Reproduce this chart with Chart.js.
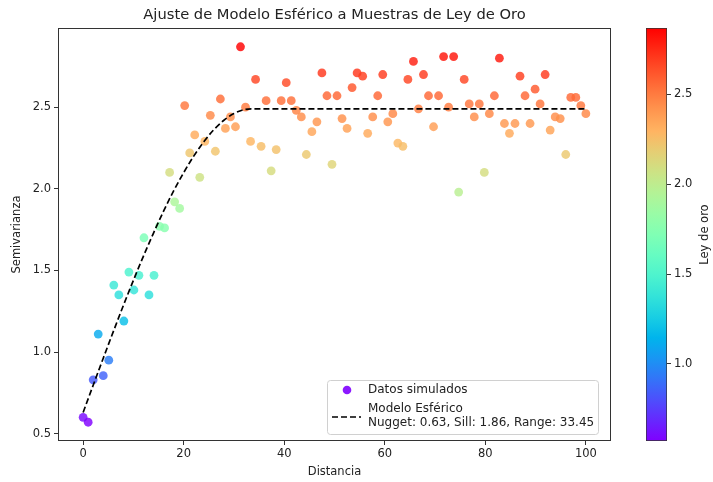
<!DOCTYPE html>
<html>
<head>
<meta charset="utf-8">
<script src="https://cdn.jsdelivr.net/npm/chart.js@4/dist/chart.umd.min.js"></script>
<style>
  html, body { margin: 0; padding: 0; background: #fff; }
  #wrap { position: relative; width: 713px; height: 482px; }
  #mainChart { position: absolute; left: 0; top: 0; }
  #cbChart { position: absolute; left: 640px; top: 0; }
</style>
</head>
<body>
<div id="wrap">
  <canvas id="mainChart" width="713" height="482"></canvas>
  <canvas id="cbChart" width="73" height="482"></canvas>
</div>
<script>
// distancias de las muestras (0..100, 100 muestras)
const distancia = [
  0.0, 1.0, 2.0, 3.0, 4.0, 5.1, 6.1, 7.1, 8.1, 9.1,
  10.1, 11.1, 12.1, 13.1, 14.1, 15.2, 16.2, 17.2, 18.2, 19.2,
  20.2, 21.2, 22.2, 23.2, 24.2, 25.3, 26.3, 27.3, 28.3, 29.3,
  30.3, 31.3, 32.3, 33.3, 34.3, 35.4, 36.4, 37.4, 38.4, 39.4,
  40.4, 41.4, 42.4, 43.4, 44.4, 45.5, 46.5, 47.5, 48.5, 49.5,
  50.5, 51.5, 52.5, 53.5, 54.5, 55.6, 56.6, 57.6, 58.6, 59.6,
  60.6, 61.6, 62.6, 63.6, 64.6, 65.7, 66.7, 67.7, 68.7, 69.7,
  70.7, 71.7, 72.7, 73.7, 74.7, 75.8, 76.8, 77.8, 78.8, 79.8,
  80.8, 81.8, 82.8, 83.8, 84.8, 85.9, 86.9, 87.9, 88.9, 89.9,
  90.9, 91.9, 92.9, 93.9, 94.9, 96.0, 97.0, 98.0, 99.0, 100.0
];
// semivarianza observada (también usada como color: ley de oro)
const semivarianza = [
  0.60, 0.57, 0.83, 1.11, 0.855, 0.95, 1.41, 1.35, 1.19, 1.49,
  1.38, 1.47, 1.70, 1.35, 1.47, 1.77, 1.76, 2.10, 1.92, 1.88,
  2.51, 2.22, 2.33, 2.07, 2.29, 2.45, 2.23, 2.55, 2.37, 2.44,
  2.38, 2.87, 2.50, 2.29, 2.67, 2.26, 2.54, 2.11, 2.24, 2.54,
  2.65, 2.54, 2.48, 2.44, 2.21, 2.35, 2.41, 2.71, 2.57, 2.15,
  2.57, 2.43, 2.37, 2.62, 2.71, 2.69, 2.34, 2.44, 2.57, 2.70,
  2.41, 2.46, 2.28, 2.26, 2.67, 2.78, 2.49, 2.70, 2.57, 2.38,
  2.57, 2.81, 2.50, 2.81, 1.98, 2.67, 2.52, 2.44, 2.52, 2.10,
  2.46, 2.57, 2.80, 2.40, 2.34, 2.40, 2.69, 2.57, 2.40, 2.61,
  2.52, 2.70, 2.36, 2.44, 2.43, 2.21, 2.56, 2.56, 2.51, 2.46
];
// modelo esferico (nugget 0.63, sill 1.86, range 33.45)
const modeloDist = [0, 2, 4, 6, 8, 10, 12, 14, 16, 18, 20, 22, 24, 26, 28, 30, 32, 33.45, 100];
const modeloGamma = [0.630, 0.797, 0.962, 1.125, 1.285, 1.439, 1.588, 1.729, 1.863, 1.987,
  2.099, 2.200, 2.288, 2.362, 2.420, 2.461, 2.485, 2.490, 2.490];

const xTicks = [0, 20, 40, 60, 80, 100];
const yTicks = [0.5, 1.0, 1.5, 2.0, 2.5];
const cbTicks = [1.0, 1.5, 2.0, 2.5];

const FONT = "'DejaVu Sans', sans-serif";
const TXT = '#222';
const FS = 11.5;

// matplotlib "rainbow"
function rainbow(t, a) {
  t = Math.max(0, Math.min(1, t));
  const r = Math.min(1, Math.abs(2 * t - 0.5));
  const g = Math.sin(Math.PI * t);
  const b = Math.max(0, Math.cos(Math.PI * t / 2));
  return `rgba(${Math.round(r * 255)},${Math.round(g * 255)},${Math.round(b * 255)},${a === undefined ? 1 : a})`;
}

const vmin = Math.min(...semivarianza);
const vmax = Math.max(...semivarianza);
const pointColors = semivarianza.map(v => rainbow((v - vmin) / (vmax - vmin), 0.82));

const boxPlugin = {
  id: 'box',
  afterDraw(chart) {
    const { ctx, chartArea: a } = chart;
    ctx.save();
    ctx.strokeStyle = '#333';
    ctx.lineWidth = 1;
    ctx.strokeRect(a.left + 0.5, a.top + 0.5, a.right - a.left - 1, a.bottom - a.top - 1);

    // titulo centrado sobre el area del grafico
    ctx.fillStyle = TXT;
    ctx.font = `14.7px ${FONT}`;
    ctx.textAlign = 'center';
    ctx.textBaseline = 'middle';
    ctx.fillText('Ajuste de Modelo Esférico a Muestras de Ley de Oro', (a.left + a.right) / 2, 15);
    ctx.textAlign = 'left';

    // leyenda
    const w = 271, h = 54;
    const x0 = a.right - 13 - w, y0 = a.bottom - 7 - h;
    ctx.fillStyle = 'rgba(255,255,255,0.8)';
    ctx.strokeStyle = '#d0d0d0';
    ctx.beginPath();
    ctx.roundRect(x0 + 0.5, y0 + 0.5, w, h, 3);
    ctx.fill();
    ctx.stroke();

    ctx.fillStyle = rainbow(0, 0.9);
    ctx.beginPath();
    ctx.arc(x0 + 20, y0 + 10, 4.3, 0, Math.PI * 2);
    ctx.fill();

    ctx.strokeStyle = '#000';
    ctx.lineWidth = 1.7;
    ctx.setLineDash([6, 3]);
    ctx.beginPath();
    ctx.moveTo(x0 + 5, y0 + 37);
    ctx.lineTo(x0 + 34, y0 + 37);
    ctx.stroke();
    ctx.setLineDash([]);

    ctx.fillStyle = TXT;
    ctx.font = `12px ${FONT}`;
    ctx.textBaseline = 'middle';
    ctx.fillText('Datos simulados', x0 + 41, y0 + 10);
    ctx.fillText('Modelo Esférico', x0 + 41, y0 + 29);
    ctx.fillText('Nugget: 0.63, Sill: 1.86, Range: 33.45', x0 + 41, y0 + 43);
    ctx.restore();
  }
};

new Chart(document.getElementById('mainChart'), {
  type: 'scatter',
  data: {
    datasets: [
      {
        label: 'Modelo Esférico',
        type: 'line',
        data: modeloDist.map((d, i) => ({ x: d, y: modeloGamma[i] })),
        borderColor: '#000',
        borderWidth: 1.7,
        borderDash: [6, 3],
        pointRadius: 0,
        fill: false,
        cubicInterpolationMode: 'monotone',
        order: 0
      },
      {
        label: 'Datos simulados',
        data: distancia.map((d, i) => ({ x: d, y: semivarianza[i] })),
        pointBackgroundColor: pointColors,
        pointBorderWidth: 0,
        pointRadius: 4.4,
        order: 1
      }
    ]
  },
  options: {
    responsive: false,
    maintainAspectRatio: false,
    animation: false,
    layout: { padding: { left: 0, right: 102, top: 28, bottom: 0 } },
    plugins: {
      legend: { display: false },
      tooltip: { enabled: false },
      title: { display: false }
    },
    scales: {
      x: {
        type: 'linear',
        min: -5,
        max: 105,
        afterFit(s) { s.height = 41; },
        afterBuildTicks(s) { s.ticks = xTicks.map(v => ({ value: v })); },
        ticks: { color: TXT, font: { family: FONT, size: FS }, padding: 2 },
        grid: { display: true, drawOnChartArea: false, drawTicks: true, tickLength: 4, color: '#333' },
        border: { display: false },
        title: { display: true, text: 'Distancia', color: TXT, font: { family: FONT, size: FS }, padding: { top: 0, bottom: 3 } }
      },
      y: {
        type: 'linear',
        min: 0.455,
        max: 2.985,
        afterFit(s) { s.width = 58; },
        afterBuildTicks(s) { s.ticks = yTicks.map(v => ({ value: v })); },
        ticks: { color: TXT, font: { family: FONT, size: FS }, padding: 3, callback: v => v.toFixed(1) },
        grid: { display: true, drawOnChartArea: false, drawTicks: true, tickLength: 4, color: '#333' },
        border: { display: false },
        title: { display: true, text: 'Semivarianza', color: TXT, font: { family: FONT, size: FS }, padding: 10 }
      }
    }
  },
  plugins: [boxPlugin]
});

// barra de color
const cbLabel = {
  id: 'cbLabel',
  afterDraw(chart) {
    const { ctx } = chart;
    const s = chart.scales.y;
    ctx.save();
    ctx.fillStyle = TXT;
    ctx.font = `${FS}px ${FONT}`;
    ctx.textAlign = 'center';
    ctx.textBaseline = 'middle';
    ctx.translate(65, (s.top + s.bottom) / 2);
    ctx.rotate(-Math.PI / 2);
    ctx.fillText('Ley de oro', 0, 0);
    ctx.restore();
  }
};

new Chart(document.getElementById('cbChart'), {
  type: 'bar',
  data: {
    labels: [''],
    datasets: [{
      data: [[vmin, vmax]],
      backgroundColor(c) {
        const a = c.chart.chartArea;
        if (!a) return rainbow(0.5);
        const g = c.chart.ctx.createLinearGradient(0, a.bottom, 0, a.top);
        for (let i = 0; i <= 20; i++) g.addColorStop(i / 20, rainbow(i / 20));
        return g;
      },
      borderColor: '#333',
      borderWidth: 1,
      borderSkipped: false,
      barPercentage: 1,
      categoryPercentage: 1
    }]
  },
  options: {
    responsive: false,
    maintainAspectRatio: false,
    animation: false,
    layout: { padding: { left: 6, right: 0, top: 28, bottom: 41 } },
    plugins: { legend: { display: false }, tooltip: { enabled: false } },
    scales: {
      x: { display: false },
      y: {
        position: 'right',
        min: vmin,
        max: vmax,
        afterFit(s) { s.width = 46; },
        afterBuildTicks(s) { s.ticks = cbTicks.map(v => ({ value: v })); },
        ticks: { color: TXT, font: { family: FONT, size: FS }, padding: 3, callback: v => v.toFixed(1) },
        grid: { display: true, drawOnChartArea: false, drawTicks: true, tickLength: 4, color: '#333' },
        border: { display: false }
      }
    }
  },
  plugins: [cbLabel]
});
</script>
</body>
</html>
